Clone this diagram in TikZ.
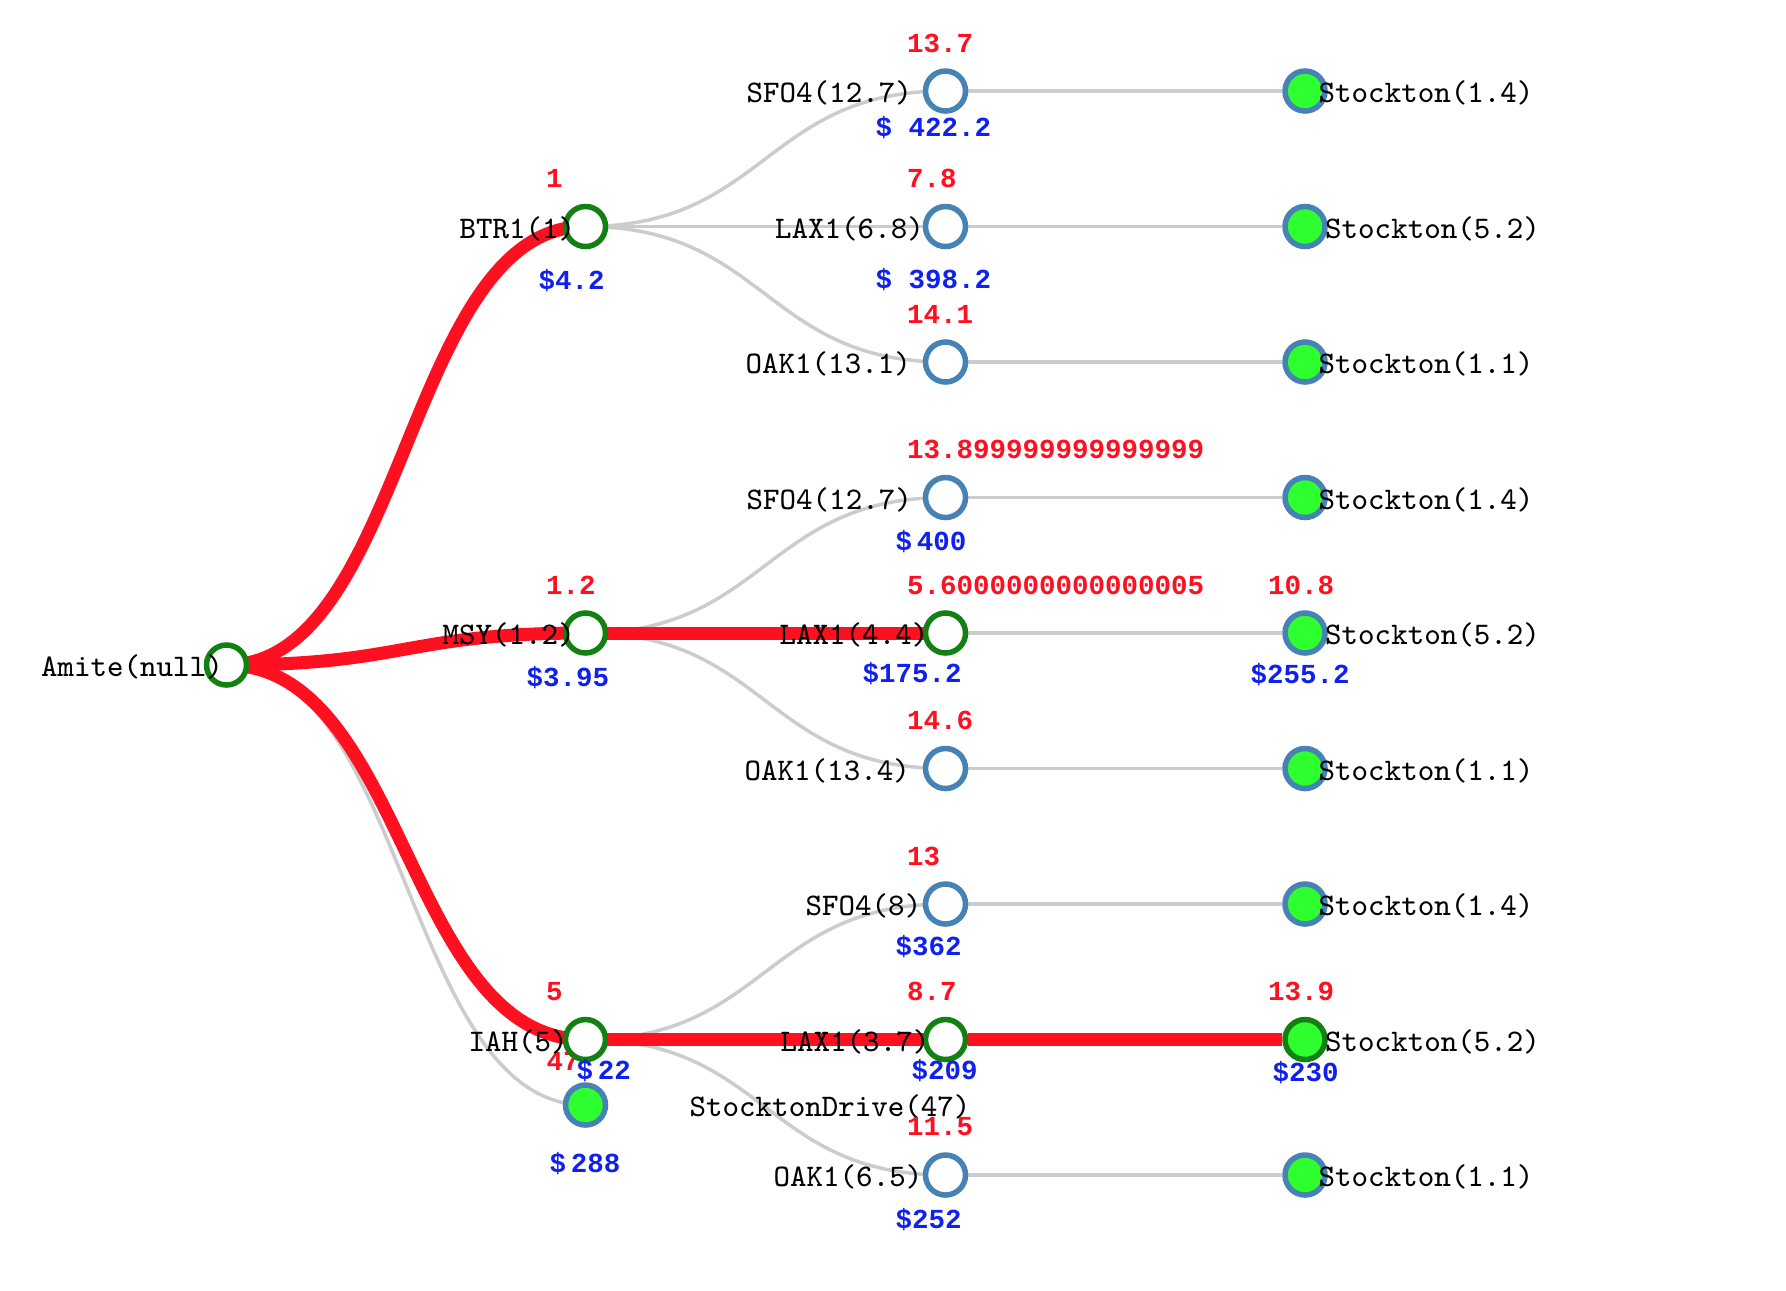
\documentclass[tikz,border=0pt]{standalone}
\usepackage{fontspec}
\usetikzlibrary{backgrounds, calc}
\newfontfamily\valfont{Liberation Mono}
\definecolor{routered}{HTML}{FF1020}
\definecolor{priceblue}{HTML}{1020EE}
\definecolor{linkgray}{HTML}{CCCCCC}
\definecolor{steelblue}{HTML}{4682B4}
\definecolor{treegreen}{HTML}{138013}
\definecolor{limegreen}{HTML}{2EFF2E}

\begin{document}
\begin{tikzpicture}[x=0.01cm, y=-0.01cm,
  onnode/.style={circle, draw=treegreen, fill=white, line width=0.055cm, minimum size=0.4cm, inner sep=0pt},
  offnode/.style={onnode, draw=steelblue},
  endnode/.style={offnode, fill=limegreen},
  endon/.style={onnode, fill=limegreen},
  lbl/.style={anchor=west, inner sep=0pt, font=\fontsize{8.94}{10}\selectfont\ttfamily},
  cost/.style={anchor=west, inner sep=0pt, text=routered, font=\valfont\bfseries\fontsize{7.82}{9}\selectfont},
  price/.style={cost, text=priceblue},
  diag/.style={to path={let \p1=(\tikztostart), \p2=(\tikztotarget) in .. controls ({(\x1+\x2)/2},\y1) and ({(\x1+\x2)/2},\y2) .. (\tikztotarget)}},
  edgegray/.style={draw=linkgray, line width=0.035cm},
  edgered/.style={draw=routered, line width=0.13cm}]
\useasboundingbox (0,0) rectangle (1786,1290);

% Tree nodes
\node[onnode] (amite) at (226.5,665) {};
\node[onnode] (btr) at (585.5,226.5) {};
\node[onnode] (msy) at (585.5,633) {};
\node[endnode] (sdrive) at (585.5,1105) {};
\node[cost] (sdrive-c) at (546,1061) {47};
\node[onnode] (iah) at (585.5,1039.5) {};

\node[offnode] (sfoA) at (945.5,91) {};
\node[offnode] (laxA) at (945.5,226.5) {};
\node[offnode] (oakA) at (945.5,362) {};
\node[offnode] (sfoB) at (945.5,497.5) {};
\node[onnode] (laxB) at (945.5,633) {};
\node[offnode] (oakB) at (945.5,768.5) {};
\node[offnode] (sfoC) at (945.5,904) {};
\node[onnode] (laxC) at (945.5,1039.5) {};
\node[offnode] (oakC) at (945.5,1175) {};

\node[endnode] (stkA1) at (1305,91) {};
\node[endnode] (stkA2) at (1305,226.5) {};
\node[endnode] (stkA3) at (1305,362) {};
\node[endnode] (stkB1) at (1305,497.5) {};
\node[endnode] (stkB2) at (1305,633) {};
\node[endnode] (stkB3) at (1305,768.5) {};
\node[endnode] (stkC1) at (1305,904) {};
\node[endon] (stkC2) at (1305,1039.5) {};
\node[endnode] (stkC3) at (1305,1175) {};

% Names
\node[lbl] (amite-t) at (40.5,667) {Amite(null)};
\node[lbl] (btr-t) at (459,228.5) {BTR1(1)};
\node[lbl] (msy-t) at (442,635) {MSY(1.2)};
\node[lbl] (iah-t) at (468,1041.5) {IAH(5)};
\node[lbl] (sdrive-t) at (689,1107) {StocktonDrive(47)};
\node[lbl] (sfoA-t) at (746,93) {SFO4(12.7)};
\node[lbl] (laxA-t) at (774.5,228.5) {LAX1(6.8)};
\node[lbl] (oakA-t) at (745,364) {OAK1(13.1)};
\node[lbl] (sfoB-t) at (746,499.5) {SFO4(12.7)};
\node[lbl] (laxB-t) at (779,635) {LAX1(4.4)};
\node[lbl] (oakB-t) at (744,770.5) {OAK1(13.4)};
\node[lbl] (sfoC-t) at (805,906) {SFO4(8)};
\node[lbl] (laxC-t) at (780,1041.5) {LAX1(3.7)};
\node[lbl] (oakC-t) at (773,1177) {OAK1(6.5)};
\node[lbl] (stkA1-t) at (1318,93) {Stockton(1.4)};
\node[lbl] (stkA2-t) at (1324.5,228.5) {Stockton(5.2)};
\node[lbl] (stkA3-t) at (1318,364) {Stockton(1.1)};
\node[lbl] (stkB1-t) at (1318,499.5) {Stockton(1.4)};
\node[lbl] (stkB2-t) at (1324.5,635) {Stockton(5.2)};
\node[lbl] (stkB3-t) at (1318,770.5) {Stockton(1.1)};
\node[lbl] (stkC1-t) at (1318,906) {Stockton(1.4)};
\node[lbl] (stkC2-t) at (1324.5,1041.5) {Stockton(5.2)};
\node[lbl] (stkC3-t) at (1318,1177) {Stockton(1.1)};

% Red values
\node[cost] (btr-c) at (545.5,178.5) {1};
\node[cost] (msy-c) at (545.5,585) {1.2};
\node[cost] (iah-c) at (545.5,991.5) {5};
\node[cost] (sfoA-c) at (906.5,43) {13.7};
\node[cost] (laxA-c) at (906.5,178.5) {7.8};
\node[cost] (oakA-c) at (906.5,314) {14.1};
\node[cost] (sfoB-c) at (906.5,449.5) {13.899999999999999};
\node[cost] (laxB-c) at (906.5,585) {5.6000000000000005};
\node[cost] (oakB-c) at (906.5,720.5) {14.6};
\node[cost] (sfoC-c) at (906.5,856) {13};
\node[cost] (laxC-c) at (906.5,991.5) {8.7};
\node[cost] (oakC-c) at (906.5,1127) {11.5};
\node[cost] (stkB2-c) at (1267.5,585) {10.8};
\node[cost] (stkC2-c) at (1267.5,991.5) {13.9};

% Blue prices
\node[price] (btr-p) at (538,281) {\$4.2};
\node[price] (msy-p) at (526,678) {\$3.95};
\node[price] (iah-p) at (576,1070.5) {\$\,22};
\node[price] (sdrive-p) at (549,1164) {\$\,288};
\node[price] (sfoA-p) at (875,128) {\$ 422.2};
\node[price] (laxA-p) at (875,280) {\$ 398.2};
\node[price] (sfoB-p) at (895,542) {\$\,400};
\node[price] (laxB-p) at (862,674) {\$175.2};
\node[price] (sfoC-p) at (895,946.5) {\$362};
\node[price] (laxC-p) at (911,1070.5) {\$209};
\node[price] (oakC-p) at (895,1220) {\$252};
\node[price] (stkB2-p) at (1250,675) {\$255.2};
\node[price] (stkC2-p) at (1272,1073) {\$230};

% Links
\begin{scope}[on background layer]
\draw[edgegray] (amite.center) to[diag] (btr.center);
\draw[edgegray] (amite.center) to[diag] (msy.center);
\draw[edgegray] (amite.center) to[diag] (iah.center);
\draw[edgegray] (amite.center) to[diag] (sdrive.center);
\draw[edgegray] (btr.center) to[diag] (sfoA.center);
\draw[edgegray] (btr.center) to[diag] (laxA.center);
\draw[edgegray] (btr.center) to[diag] (oakA.center);
\draw[edgegray] (msy.center) to[diag] (sfoB.center);
\draw[edgegray] (msy.center) to[diag] (laxB.center);
\draw[edgegray] (msy.center) to[diag] (oakB.center);
\draw[edgegray] (iah.center) to[diag] (sfoC.center);
\draw[edgegray] (iah.center) to[diag] (laxC.center);
\draw[edgegray] (iah.center) to[diag] (oakC.center);
\draw[edgegray] (sfoA) -- (stkA1);
\draw[edgegray] (laxA) -- (stkA2);
\draw[edgegray] (oakA) -- (stkA3);
\draw[edgegray] (sfoB) -- (stkB1);
\draw[edgegray] (laxB) -- (stkB2);
\draw[edgegray] (oakB) -- (stkB3);
\draw[edgegray] (sfoC) -- (stkC1);
\draw[edgegray] (laxC) -- (stkC2);
\draw[edgegray] (oakC) -- (stkC3);
% route in red
\draw[edgered] (amite.center) to[diag] (btr.center);
\draw[edgered] (amite.center) to[diag] (msy.center);
\draw[edgered] (amite.center) to[diag] (iah.center);
\draw[edgered] (msy.center) to[diag] (laxB.center);
\draw[edgered] (iah.center) to[diag] (laxC.center);
\draw[edgered] (laxC) -- (stkC2);
\end{scope}
\end{tikzpicture}
\end{document}
